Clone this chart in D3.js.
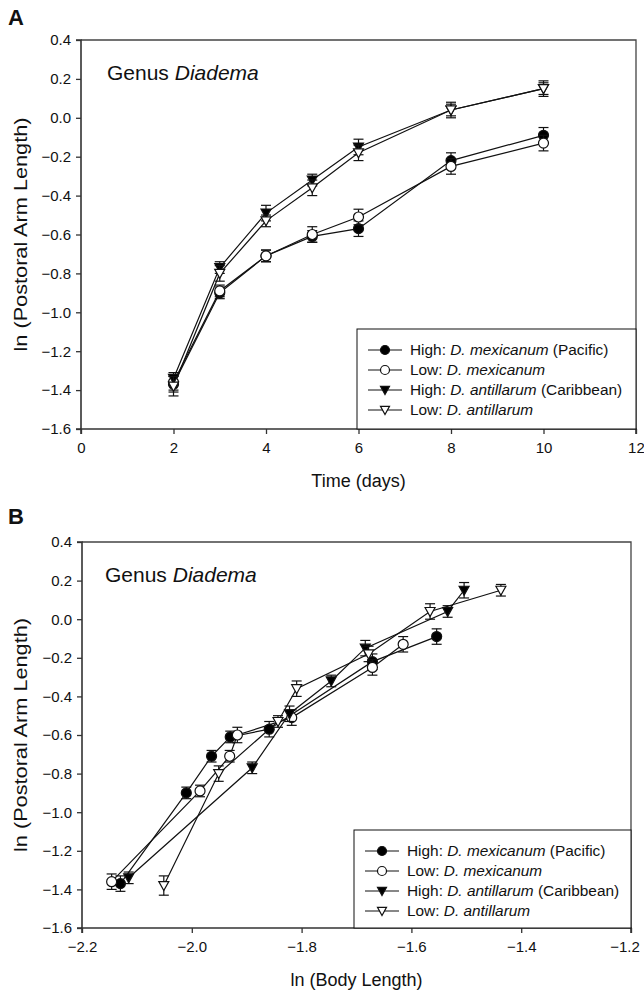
<!DOCTYPE html>
<html>
<head>
<meta charset="utf-8">
<script src="https://cdn.jsdelivr.net/npm/d3@7"></script>
<style>
  body { margin: 0; background: #fff; }
  svg { display: block; font-family: "Liberation Sans", Arial, sans-serif; }
</style>
</head>
<body>
<svg id="chart" width="644" height="996"></svg>
<script>
// ---------- DATA ----------
const days = [2, 3, 4, 5, 6, 8, 10];
const seriesNames = ["High: D. mexicanum (Pacific)", "Low: D. mexicanum", "High: D. antillarum (Caribbean)", "Low: D. antillarum"];
const highMex = [-1.37, -0.90, -0.71, -0.61, -0.57, -0.22, -0.09];
const lowMex  = [-1.36, -0.89, -0.71, -0.60, -0.51, -0.25, -0.13];
const highAnt = [-1.34, -0.77, -0.49, -0.32, -0.15, 0.04, 0.15];
const lowAnt  = [-1.38, -0.80, -0.53, -0.36, -0.18, 0.04, 0.15];
const errHighMex = [0.04, 0.03, 0.03, 0.03, 0.04, 0.04, 0.04];
const errLowMex  = [0.04, 0.03, 0.03, 0.04, 0.04, 0.04, 0.04];
const errHighAnt = [0.03, 0.03, 0.04, 0.03, 0.04, 0.03, 0.04];
const errLowAnt  = [0.05, 0.04, 0.03, 0.04, 0.04, 0.04, 0.03];
const bodyHighMex = [-2.130, -2.010, -1.964, -1.930, -1.859, -1.671, -1.554];
const bodyLowMex  = [-2.146, -1.985, -1.931, -1.917, -1.818, -1.671, -1.615];
const bodyHighAnt = [-2.115, -1.890, -1.822, -1.746, -1.684, -1.534, -1.504];
const bodyLowAnt  = [-2.051, -1.951, -1.843, -1.809, -1.678, -1.566, -1.437];
const timeTicks = [0, 2, 4, 6, 8, 10, 12];
const bodyTicks = [-2.2, -2.0, -1.8, -1.6, -1.4, -1.2];
const yTicks = [0.4, 0.2, 0.0, -0.2, -0.4, -0.6, -0.8, -1.0, -1.2, -1.4, -1.6];

const yVals = [highMex, lowMex, highAnt, lowAnt];
const yErrs = [errHighMex, errLowMex, errHighAnt, errLowAnt];
const bodyVals = [bodyHighMex, bodyLowMex, bodyHighAnt, bodyLowAnt];
const markerTypes = ["circle", "circle", "triangle", "triangle"];
const markerFill = ["#000", "#fff", "#000", "#fff"];

const svg = d3.select("#chart");
const INK = "#111";

function markerPath(type, s) {
  if (type === "circle") {
    return d3.symbol().type(d3.symbolCircle).size(Math.PI * s * s)();
  }
  // downward triangle
  return `M${-s},${-s * 0.8}L${s},${-s * 0.8}L0,${s}Z`;
}

function drawPanel(opt) {
  const { x0, x1, y0, y1, xDomain, xTicks, xFmt, xVals, xLabel, letter, letterY, titleX, titleY, legend } = opt;
  const g = svg.append("g");
  const x = d3.scaleLinear().domain(xDomain).range([x0, x1]);
  const y = d3.scaleLinear().domain([-1.6, 0.4]).range([y1, y0]);

  // frame (top & right)
  g.append("path")
    .attr("d", `M${x0},${y0}L${x1},${y0}L${x1},${y1}`)
    .attr("fill", "none").attr("stroke", "#444").attr("stroke-width", 1.3);

  // axes
  const xAxis = d3.axisBottom(x).tickValues(xTicks).tickFormat(xFmt).tickSize(5).tickPadding(8);
  const yAxis = d3.axisLeft(y).tickValues(yTicks).tickFormat(d3.format(".1f")).tickSize(5).tickPadding(5);
  const gx = g.append("g").attr("transform", `translate(0,${y1})`).call(xAxis);
  const gy = g.append("g").attr("transform", `translate(${x0},0)`).call(yAxis);
  [gx, gy].forEach(a => {
    a.select(".domain").attr("stroke", "#333").attr("stroke-width", 1.6);
    a.selectAll(".tick line").attr("stroke", "#333").attr("stroke-width", 1.3);
    a.selectAll(".tick text").attr("fill", INK).style("font-size", "15px")
      .style("font-family", '"Liberation Sans", Arial, sans-serif');
  });
  // keep the last x tick label inside the page
  gx.selectAll(".tick text").filter((d, i, n) => i === n.length - 1)
    .attr("text-anchor", "end").attr("dx", "0.55em");
  gy.select(".domain").attr("d", `M-5,${y0}H0V${y1}H-5`);
  gx.select(".domain").attr("d", `M${x0},5V0H${x1}V5`);

  // axis titles
  g.append("text")
    .attr("x", (x0 + x1) / 2).attr("y", y1 + 58)
    .attr("text-anchor", "middle").attr("fill", INK)
    .style("font-size", "18px").text(xLabel);
  g.append("text")
    .attr("transform", `translate(27,${(y0 + y1) / 2}) rotate(-90)`)
    .attr("text-anchor", "middle").attr("fill", INK)
    .attr("textLength", 234).attr("lengthAdjust", "spacingAndGlyphs")
    .style("font-size", "18px").text("ln (Postoral Arm Length)");

  // panel letter
  g.append("text").attr("x", 8).attr("y", letterY)
    .attr("fill", INK).style("font-size", "22px").style("font-weight", "bold").text(letter);

  // panel title
  const t = g.append("text").attr("x", titleX).attr("y", titleY).attr("fill", INK).style("font-size", "21px");
  t.append("tspan").text("Genus ");
  t.append("tspan").style("font-style", "italic").text("Diadema");

  // series
  yVals.forEach((vals, si) => {
    const pts = vals.map((v, i) => ({ x: xVals[si][i], y: v, e: yErrs[si][i] }));
    g.append("path")
      .attr("d", d3.line().x(d => x(d.x)).y(d => y(d.y))(pts))
      .attr("fill", "none").attr("stroke", INK).attr("stroke-width", 1.2);
  });
  yVals.forEach((vals, si) => {
    const pts = vals.map((v, i) => ({ x: xVals[si][i], y: v, e: yErrs[si][i] }));
    const eg = g.append("g").attr("stroke", INK).attr("stroke-width", 1.2);
    pts.forEach(d => {
      const cx = x(d.x), top = y(d.y + d.e), bot = y(d.y - d.e);
      eg.append("line").attr("x1", cx).attr("x2", cx).attr("y1", top).attr("y2", bot);
      eg.append("line").attr("x1", cx - 5).attr("x2", cx + 5).attr("y1", top).attr("y2", top);
      eg.append("line").attr("x1", cx - 5).attr("x2", cx + 5).attr("y1", bot).attr("y2", bot);
    });
    g.append("g").selectAll("path").data(pts).join("path")
      .attr("transform", d => `translate(${x(d.x)},${y(d.y)})`)
      .attr("d", markerPath(markerTypes[si], 5))
      .attr("fill", markerFill[si]).attr("stroke", INK).attr("stroke-width", 1.2);
  });

  // legend
  const lg = g.append("g");
  lg.append("rect").attr("x", legend.x).attr("y", legend.y)
    .attr("width", x1 - legend.x).attr("height", y1 - legend.y)
    .attr("fill", "#fff").attr("stroke", INK).attr("stroke-width", 1);
  seriesNames.forEach((name, i) => {
    const ry = legend.y + 21 + i * 20;
    const cx = legend.x + 28;
    lg.append("line").attr("x1", cx - 17).attr("x2", cx + 17).attr("y1", ry).attr("y2", ry)
      .attr("stroke", INK).attr("stroke-width", 1.2);
    lg.append("path").attr("transform", `translate(${cx},${ry})`)
      .attr("d", markerPath(markerTypes[i], 4.5))
      .attr("fill", markerFill[i]).attr("stroke", INK).attr("stroke-width", 1.2);
    const parts = name.match(/^(\w+: )(D\. \w+)(.*)$/);
    const tx = lg.append("text").attr("x", legend.x + 53).attr("y", ry + 5)
      .attr("fill", INK).style("font-size", "15.4px");
    tx.append("tspan").text(parts[1]);
    tx.append("tspan").style("font-style", "italic").text(parts[2]);
    if (parts[3]) tx.append("tspan").text(parts[3]);
  });
}

drawPanel({
  x0: 81, x1: 636, y0: 40, y1: 429,
  xDomain: [0, 12], xTicks: timeTicks, xFmt: d3.format("d"),
  xVals: [days, days, days, days],
  xLabel: "Time (days)", letter: "A", letterY: 25,
  titleX: 107, titleY: 80,
  legend: { x: 357, y: 329 }
});
drawPanel({
  x0: 82, x1: 631, y0: 542, y1: 928,
  xDomain: [-2.2, -1.2], xTicks: bodyTicks, xFmt: d3.format(".1f"),
  xVals: bodyVals,
  xLabel: "ln (Body Length)", letter: "B", letterY: 524,
  titleX: 105, titleY: 582,
  legend: { x: 354, y: 830 }
});
</script>
</body>
</html>
